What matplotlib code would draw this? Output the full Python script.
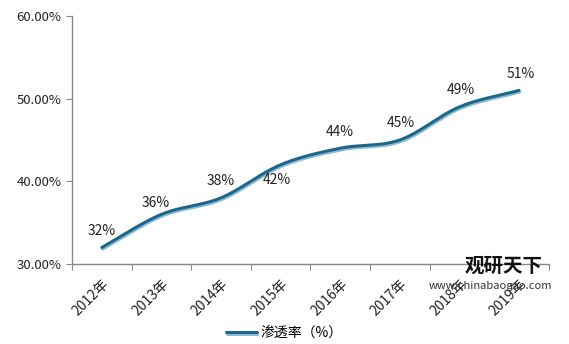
import numpy as np
import matplotlib
matplotlib.use("Agg")
import matplotlib.pyplot as plt
import matplotlib.patheffects as pe
from matplotlib.ticker import FixedLocator, NullFormatter, FuncFormatter

plt.rcParams['font.family'] = ['Noto Sans CJK SC', 'DejaVu Sans']

years = ['2012年', '2013年', '2014年', '2015年', '2016年', '2017年', '2018年', '2019年']
rate = [32, 36, 38, 42, 44, 45, 49, 51]
labels = ['32%', '36%', '38%', '42%', '44%', '45%', '49%', '51%']
series_name = '渗透率（%）'


def smooth(xs, ys, n=30):
    # catmull-rom style curve through the points, like excel's smoothed line
    xs = np.asarray(xs, float)
    ys = np.asarray(ys, float)
    px = np.concatenate([[2 * xs[0] - xs[1]], xs, [2 * xs[-1] - xs[-2]]])
    py = np.concatenate([[2 * ys[0] - ys[1]], ys, [2 * ys[-1] - ys[-2]]])
    ox, oy = [], []
    t = np.linspace(0, 1, n)
    for i in range(1, len(px) - 2):
        for p, o in ((px, ox), (py, oy)):
            p0, p1, p2, p3 = p[i - 1], p[i], p[i + 1], p[i + 2]
            o.extend(0.5 * ((2 * p1) + (-p0 + p2) * t
                            + (2 * p0 - 5 * p1 + 4 * p2 - p3) * t ** 2
                            + (-p0 + 3 * p1 - 3 * p2 + p3) * t ** 3))
    return np.array(ox), np.array(oy)


fig = plt.figure(figsize=(5.69, 3.44), dpi=100)
ax = fig.add_axes([0.1265, 0.2326, 0.838, 0.721])

x = np.arange(len(years))
sx, sy = smooth(x, rate)
ax.plot(sx, sy, color='#1d6689', lw=2.2, solid_capstyle='round',
        label=series_name,
        path_effects=[pe.Stroke(offset=(0.6, -1.2), linewidth=2.2, foreground='#8cbcd6'),
                      pe.Normal()])

# label offsets in points (dx, dy)
offsets = [(0, 12), (-4, 8), (0, 12), (-3, -11), (0, 12), (1, 12), (1, 12), (1, 12)]
for xi, yi, lab, (dx, dy) in zip(x, rate, labels, offsets):
    ax.annotate(lab, (xi, yi), xytext=(dx, dy), textcoords='offset points',
                ha='center', va='center', fontsize=10, color='#222222')

ax.set_xlim(-0.5, len(years) - 0.5)
ax.set_ylim(30, 60)
ax.yaxis.set_major_locator(FixedLocator([30, 40, 50, 60]))
ax.yaxis.set_major_formatter(FuncFormatter(lambda v, p: f'{v:.2f}%'))
ax.xaxis.set_major_locator(FixedLocator(np.arange(len(years) + 1) - 0.5))
ax.xaxis.set_major_formatter(NullFormatter())
ax.xaxis.set_minor_locator(FixedLocator(x))
ax.set_xticklabels(years, minor=True, rotation=45, ha='right', va='top',
                   rotation_mode='anchor', fontsize=10, color='#222222')
ax.tick_params(axis='x', which='minor', length=0, pad=9)
ax.tick_params(axis='x', which='major', length=4, color='#888888')
ax.tick_params(axis='y', length=4, color='#888888', labelsize=9.5, labelcolor='#222222')

for s in ['top', 'right']:
    ax.spines[s].set_visible(False)
for s in ['left', 'bottom']:
    ax.spines[s].set_color('#888888')
    ax.spines[s].set_linewidth(1)

leg = fig.legend(loc='lower center', bbox_to_anchor=(0.5, -0.025), frameon=False,
                 fontsize=10, handlelength=2.2, handletextpad=0.3)

# watermark
fig.text(0.885, 0.225, '观研天下', fontsize=14, fontweight='bold', color='#111111',
         ha='center', va='center')
fig.text(0.862, 0.17, 'www.chinabaogao.com', fontsize=8, color='#333333',
         ha='center', va='center')

fig.savefig('out.png', dpi=100)
